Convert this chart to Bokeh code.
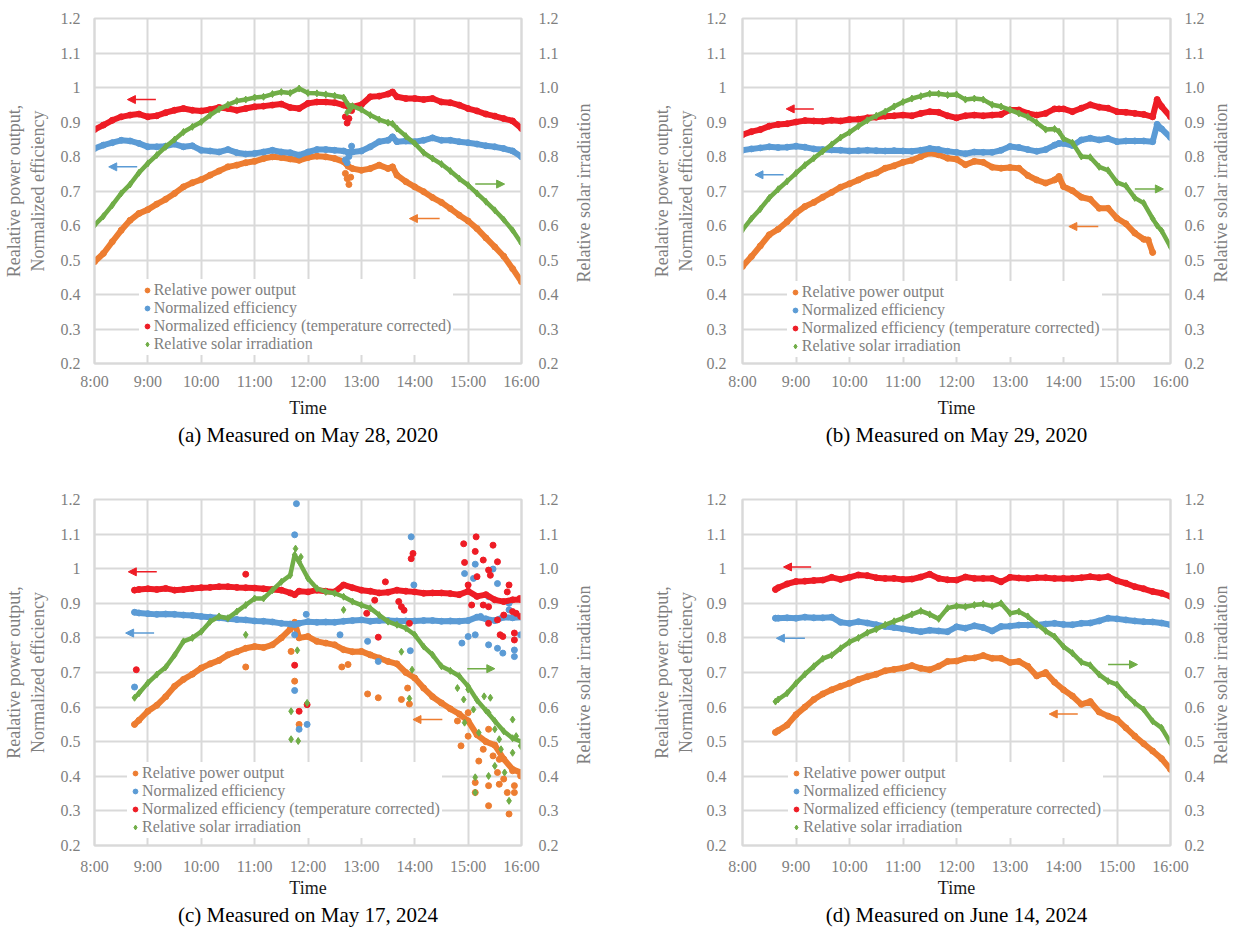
import math
from bokeh.plotting import figure
from bokeh.models import (Range1d, LinearAxis, FixedTicker, Legend, LegendItem,
                          Arrow, NormalHead, Title)
from bokeh.layouts import row, column
from bokeh.embed import file_html
from bokeh.resources import INLINE

FONT = "Liberation Serif"
C_ORANGE, C_BLUE, C_RED, C_GREEN = "#ED7D31", "#5B9BD5", "#EE1C25", "#70AD47"
GRID = "#D9D9D9"
GRAY_TXT = "#7F7F7F"

# ---------------- axis ticks / labels ----------------
X_TICKS = [480, 540, 600, 660, 720, 780, 840, 900, 960]          # minutes after midnight
X_LABELS = ["8:00", "9:00", "10:00", "11:00", "12:00", "13:00", "14:00", "15:00", "16:00"]
Y_TICKS = [0.2, 0.3, 0.4, 0.5, 0.6, 0.7, 0.8, 0.9, 1.0, 1.1, 1.2]
Y_LEFT_LABELS = ["0.2", "0.3", "0.4", "0.5", "0.6", "0.7", "0.8", "0.9", "1", "1.1", "1.2"]
Y_RIGHT_LABELS = ["0.2", "0.3", "0.4", "0.5", "0.6", "0.7", "0.8", "0.9", "1.0", "1.1", "1.2"]
SERIES_NAMES = ["Relative power output", "Normalized efficiency",
                "Normalized efficiency (temperature corrected)", "Relative solar irradiation"]
LEFT_TITLE = "Realative power output,\nNormalized efficiency"
RIGHT_TITLE = "Relative solar irradiation"
X_TITLE = "Time"
CAPTIONS = ["(a) Measured on May 28, 2020", "(b) Measured on May 29, 2020",
            "(c) Measured on May 17, 2024", "(d) Measured on June 14, 2024"]

# ---------------- panel (a) ----------------
T_A = [480, 490, 500, 510, 520, 530, 540, 550, 560, 570, 580, 590, 600, 610, 620, 630, 640, 650,
       660, 670, 680, 690, 700, 710, 720, 730, 740, 750, 760, 765, 770, 780, 790, 800, 810, 815,
       820, 830, 840, 850, 860, 870, 880, 890, 900, 910, 920, 930, 940, 950, 960]
POWER_A = [.495, .519, .553, .586, .615, .635, .646, .662, .676, .693,
           .712, .724, .733, .746, .758, .770, .775, .782, .786, .794,
           .799, .797, .793, .789, .797, .801, .799, .794, .785,
           .772,
           .765, .760, .765, .775, .765,
           .770,
           .746, .727, .712, .698, .681, .667, .649, .630, .613, .591, .564, .538, .511, .475, .437]
EFF_A = [.823, .833, .840, .847, .845, .838, .828, .828, .830, .836,
         .828, .831, .818, .816, .813, .820, .811, .807, .809, .813,
         .818, .813, .811, .804, .813, .820, .820, .818, .816,
         .812,
         .813, .816, .828, .843, .847,
         .857,
         .843, .845, .843, .847, .854, .847, .847, .843, .840, .836, .831, .828, .823, .816, .799]
EFFT_A = [.878, .891, .905, .915, .920, .923, .915, .918, .927, .934,
          .939, .934, .932, .936, .942, .939, .934, .939, .944, .946,
          .949, .952, .942, .939, .954, .958, .958, .956, .949,
          .945,
          .944, .950, .973, .975, .981,
          .987,
          .973, .968, .968, .965, .968, .958, .956, .949, .939, .932, .923, .917, .910, .903, .881]
IRR_A = [.601, .627, .659, .693, .719, .753, .780, .804, .828, .849,
         .871, .886, .900, .920, .937, .950, .961, .965, .971, .973,
         .981, .987, .984, .997, .984, .983, .980, .976, .971,
         .950,
         .946, .936, .920, .907, .898,
         .895,
         .881, .859, .838, .811, .794, .778, .758, .736, .717, .693, .669, .644, .617, .586, .548]
OUT_A = {
    "power": ([762, 764, 766, 768], [.751, .736, .719, .740]),
    "eff": ([762, 764, 766, 769], [.790, .782, .800, .830]),
    "efft": ([762, 764, 766, 769], [.915, .897, .910, .933]),
    "irr": ([764, 767], [.928, .935]),
}
ARROWS_A = [(549, 517, .965, C_RED), (528, 496, .770, C_BLUE),
            (908, 941, .720, C_GREEN), (868, 834, .620, C_ORANGE)]

# ---------------- panel (b) ----------------
T_B = [480, 490, 500, 510, 520, 530, 540, 550, 560, 570, 580, 590, 600, 610, 620, 630, 640, 650,
       660, 670, 680, 690, 700, 710, 720, 730, 740, 750, 760, 770, 780, 790, 800, 810, 820, 830,
       835, 840, 850, 860, 870, 880, 890, 900, 910, 920, 930, 940, 945, 950, 960]
T_B_POWER = [480, 490, 500, 510, 520, 530, 540, 550, 560, 570, 580, 590, 600, 610, 620, 630, 640,
             650, 660, 670, 680, 690, 700, 710, 720, 730, 740, 750, 760, 770, 780, 790, 800, 810,
             820, 830, 835, 840, 850, 860, 870, 880, 890, 900, 910, 920, 930, 935, 940]
POWER_B = [.481, .510, .541, .573, .589, .611, .636, .655, .667, .682,
           .696, .711, .721, .732, .744, .752, .766, .773, .783, .789,
           .800, .810, .805, .795, .792, .776, .786, .783, .769, .766,
           .768, .766, .745, .732, .723, .732,
           .742,
           .713, .701, .682, .676, .650, .650, .621, .605, .578, .560,
           .558, .522]
EFF_B = [.818, .822, .825, .828, .826, .827, .830, .827, .822, .820,
         .819, .818, .816, .817, .818, .817, .816, .817, .816, .815,
         .818, .823, .820, .815, .812, .808, .813, .812, .812, .818,
         .829, .826, .820, .815, .820, .833,
         .838,
         .838, .832, .848, .853, .848, .852, .843, .845, .845, .845, .843,
         .893, .880, .855]
EFFT_B = [.863, .872, .878, .888, .893, .895, .900, .904, .903, .902,
          .905, .903, .907, .908, .912, .914, .917, .918, .920, .918,
          .925, .930, .928, .918, .912, .918, .920, .918, .920, .922,
          .935, .935, .925, .920, .925, .938,
          .938,
          .938, .930, .940, .950, .943, .940, .930, .928, .925, .922, .915,
          .965, .945, .915]
IRR_B = [.587, .620, .648, .680, .705, .728, .752, .775, .795, .815,
         .835, .855, .870, .888, .905, .918, .930, .945, .958, .968,
         .975, .982, .982, .978, .980, .965, .968, .965, .950, .945,
         .935, .925, .915, .898, .878, .880,
         .872,
         .852, .840, .800, .798, .770, .760, .725, .715, .680, .665, .620,
         .600, .585, .538]
OUT_B = {"power": ([], []), "eff": ([], []), "efft": ([], []), "irr": ([], [])}
ARROWS_B = [(560, 529, .938, C_RED), (526, 494, .747, C_BLUE),
            (920, 952, .706, C_GREEN), (879, 846, .597, C_ORANGE)]

# ---------------- panel (c) ----------------
T_C = [525, 530, 540, 550, 560, 570, 580, 590, 600, 610, 620, 630, 640, 650, 660, 670, 680, 690,
       700, 705, 710, 720, 730, 740, 750, 760, 770, 780, 790, 800, 810, 820, 830, 840, 850, 860,
       870, 880, 890, 900, 910, 920, 930, 940, 950, 960]
POWER_C = [.550,
           .562, .588, .605, .630, .660, .680, .695, .713, .725, .735, .751, .760, .770, .775,
           .772, .780, .800, .825,
           .845,
           .800, .804, .790, .785, .780, .766, .760, .761, .751, .742, .732, .725, .700, .684,
           .655, .630, .612, .595, .580, .560, .520, .500, .490, .450, .420, .410]
EFF_C = [.874,
         .872, .870, .868, .869, .868, .866, .865, .862, .860, .858, .855, .853, .852, .849,
         .848, .846, .842, .840,
         .838,
         .842, .847, .845, .846, .845, .848, .850, .852, .848, .850, .850, .849, .849, .849,
         .850, .850, .848, .849, .848, .850, .860, .855, .850, .860, .858, .860]
EFFT_C = [.938,
          .940, .942, .940, .943, .938, .940, .943, .945, .946, .948, .948, .946, .945, .944,
          .942, .940, .938, .930,
          .925,
          .935, .933, .938, .935, .933, .953, .945, .938, .935, .930, .932, .938, .935, .933,
          .929, .930, .930, .928, .925, .935, .920, .925, .910, .905, .910, .910]
IRR_C = [.627,
         .640, .670, .694, .715, .750, .790, .800, .818, .847, .862, .857, .876, .895, .914,
         .914, .938, .962, .981,
         1.040,
         1.020, .972, .943, .933, .929, .919, .905, .895, .886, .866, .847, .838, .828, .809,
         .775, .751, .718, .705, .690, .660, .620, .590, .560, .530, .510, .500]
OUT_C = {
    "power": ([650, 701, 705, 710, 758, 765, 787, 799, 825, 834, 832,
               908, 908, 923, 923, 946, 944, 952, 952, 935, 940, 892, 900, 912, 917, 928,
               933, 950, 959, 923, 935, 900, 888],
              [.716, .761, .675, .550, .716, .723, .638, .627, .622, .609, .655,
               .382, .353, .373, .315, .291, .353, .353, .373, .377, .392, .488, .516, .444,
               .478, .459, .411, .416, .401, .536, .449, .584, .560]),
    "eff": ([525, 707, 705, 705, 710, 719, 718, 705, 836, 835, 787, 799, 756, 839,
             893, 896, 900, 908, 908, 928, 933, 923, 933, 939, 952, 952, 946, 959, 906, 914,
             923, 946],
            [.658, 1.188, 1.098, .648, .536, .550, .868, .809, 1.092, .763, .790, .732, .809,
             .953, .785, .986, .804, 1.013, .809, .999, .957, .780, .770, .756, .765, .746,
             .900, .809, .972, .862, .919, .881]),
    "efft": ([527, 650, 705, 710, 719, 836, 838, 834, 799, 786, 807, 795, 822, 825, 828,
              895, 896, 909, 908, 928, 933, 917, 923, 910, 925, 900, 904, 917, 923, 923, 933,
              940, 936, 939, 952, 952, 946, 944, 958, 950, 954, 959],
             [.708, .984, .721, .588, .607, 1.029, 1.044, .842, .802, .871, .962, .909, .905,
              .890, .880, 1.072, 1.018, 1.092, 1.050, 1.068, 1.020, 1.025, .996, .977, .981,
              .953, .895, .895, .890, .842, .852, .866, .809, .804, .814, .794, .953, .933,
              .914, .876, .871, .862]),
    "irr": ([650, 701, 701, 709, 708, 719, 760, 825, 834, 837, 706, 712,
             888, 895, 900, 896, 906, 912, 918, 925, 923, 930, 935, 937, 908, 908, 923, 930,
             946, 950, 954, 959, 950, 941],
            [.809, .588, .507, .502, .764, .612, .881, .760, .625, .708, 1.058, 1.034,
             .655, .622, .651, .555, .593, .526, .631, .627, .584, .536, .507, .478, .397,
             .353, .401, .430, .329, .564, .516, .488, .468, .411]),
}
ARROWS_C = [(550, 518, .991, C_RED), (547, 515, .814, C_BLUE),
            (899, 930, .711, C_GREEN), (871, 838, .564, C_ORANGE)]

# ---------------- panel (d) ----------------
T_D = [517, 520, 530, 540, 550, 560, 570, 580, 590, 600, 610, 620, 630, 640, 650, 660, 670, 680,
       690, 700, 710, 720, 730, 740, 750, 760, 770, 780, 790, 800, 810, 820, 830, 840, 850, 860,
       870, 880, 890, 900, 910, 920, 930, 940, 950, 960]
POWER_D = [.527,
           .532, .548, .578, .600, .622, .638, .650, .660,
           .669, .680, .688, .695, .705, .709, .713, .720, .712, .708,
           .718, .732, .733, .741, .742, .749, .741, .741, .729, .732,
           .718, .690, .700, .672, .650, .632, .608, .616, .586, .574,
           .564, .540, .516, .494, .473, .451, .420]
EFF_D = [.857,
         .857, .858, .857, .860, .858, .858, .860, .845,
         .842, .847, .843, .838, .833, .830, .826, .822, .818, .822,
         .820, .818, .832, .828, .835, .830, .820, .833, .834, .837,
         .837, .837, .840, .842, .839, .838, .842, .843, .849, .857,
         .855, .852, .849, .847, .846, .843, .838]
EFFT_D = [.940,
          .945, .956, .963, .964, .966, .967, .975, .969,
          .975, .982, .980, .974, .972, .972, .969, .970, .976, .984,
          .972, .968, .967, .976, .972, .972, .972, .962, .975, .973,
          .972, .974, .974, .972, .972, .972, .974, .977, .974, .977,
          .965, .958, .948, .942, .934, .929, .920]
IRR_D = [.616,
         .622, .640, .669, .695, .718, .740, .750, .770,
         .788, .800, .815, .825, .838, .848, .857, .868, .878, .868,
         .855, .886, .892, .890, .895, .898, .892, .900, .871, .876,
         .862, .840, .820, .804, .775, .756, .730, .721, .694, .675,
         .665, .636, .612, .593, .559, .540, .497]
OUT_D = {"power": ([], []), "eff": ([], []), "efft": ([], []), "irr": ([], [])}
ARROWS_D = [(557, 526, 1.005, C_RED), (550, 518, .799, C_BLUE),
            (890, 923, .723, C_GREEN), (856, 824, .580, C_ORANGE)]

NBSP_PAD = "\u00a0" * 18   # lifts the bottom-anchored right title to the frame centre


def make_panel(t_power, power, t, eff, efft, irr, out, arrows, caption, col, bottom, legend_xy):
    if col == 0:
        bl, fw, br = 94, 427, 99
        y_std, ylab_std, r_std, rlab_std = 14, 10, 17, 22
    else:
        bl, fw, br = 122, 429, 72
        y_std, ylab_std, r_std, rlab_std = 16, 8, 14, 13
    if bottom:
        bt, fh, bb = 29, 348, 80
        x_std, xl_std, cap_std = 12, 0, 1
    else:
        bt, fh, bb = 18, 345, 107
        x_std, xl_std, cap_std = 9, 5, 1

    p = figure(width=bl + fw + br, height=bt + fh + bb,
               x_range=Range1d(480, 960), y_range=Range1d(0.2, 1.2),
               output_backend="svg", toolbar_location=None,
               min_border_left=bl, min_border_right=br,
               min_border_top=bt, min_border_bottom=bb,
               background_fill_color="white", border_fill_color="white")
    p.outline_line_color = GRID
    p.outline_line_width = 2

    p.xgrid.ticker = FixedTicker(ticks=X_TICKS)
    p.ygrid.ticker = FixedTicker(ticks=Y_TICKS)
    for g in (p.xgrid, p.ygrid):
        g.grid_line_color = GRID
        g.grid_line_width = 2

    xa = p.xaxis[0]
    xa.ticker = FixedTicker(ticks=X_TICKS)
    xa.major_label_overrides = {k: v for k, v in zip(X_TICKS, X_LABELS)}
    xa.axis_label = X_TITLE
    xa.axis_label_standoff = xl_std
    xa.major_label_standoff = x_std

    ya = p.yaxis[0]
    ya.ticker = FixedTicker(ticks=Y_TICKS)
    ya.major_label_overrides = {k: v for k, v in zip(Y_TICKS, Y_LEFT_LABELS)}
    ya.axis_label = LEFT_TITLE
    ya.axis_label_standoff = ylab_std
    ya.major_label_standoff = y_std

    p.extra_y_ranges = {"r": Range1d(0.2, 1.2)}
    ra = LinearAxis(y_range_name="r", ticker=FixedTicker(ticks=Y_TICKS))
    ra.major_label_overrides = {k: v for k, v in zip(Y_TICKS, Y_RIGHT_LABELS)}
    ra.major_label_standoff = r_std
    ra.axis_label_standoff = rlab_std
    props = ra.properties()
    if "axis_label_orientation" in props and "axis_label_align" in props:
        ra.axis_label = NBSP_PAD + RIGHT_TITLE
        ra.axis_label_orientation = math.pi / 2
        ra.axis_label_align = "start"
    else:
        ra.axis_label = RIGHT_TITLE
    p.add_layout(ra, "right")

    for ax in (xa, ya, ra):
        ax.axis_line_color = GRID
        ax.axis_line_width = 2
        ax.major_tick_line_color = None
        ax.minor_tick_line_color = None
        ax.major_tick_out = 0
        ax.major_tick_in = 0
        ax.major_label_text_font = FONT
        ax.major_label_text_font_size = "16px"
        ax.major_label_text_color = GRAY_TXT
        ax.axis_label_text_font = FONT
        ax.axis_label_text_font_style = "normal"
        ax.axis_label_text_font_size = "18px"
        ax.axis_label_text_color = GRAY_TXT
    xa.axis_label_text_color = "#1A1A1A"

    specs = [(t_power, power, C_ORANGE, 6, "circle", 6, "power"),
             (t, eff, C_BLUE, 6, "circle", 6, "eff"),
             (t, efft, C_RED, 6, "circle", 6, "efft"),
             (t, irr, C_GREEN, 4.5, "diamond", 7, "irr")]
    legend_rs = []
    for tx, ys, c, lw, mk, ms, key in specs:
        p.line(tx, ys, line_color=c, line_width=lw, line_join="round", line_cap="round")
        r = p.scatter(tx, ys, marker=mk, size=ms, fill_color=c, line_color=c)
        legend_rs.append(r)
        ox, oy = out[key]
        if ox:
            p.scatter(ox, oy, marker=mk, size=ms, fill_color=c, line_color=c)

    for x0, x1, yv, c in arrows:
        p.add_layout(Arrow(x_start=x0, y_start=yv, x_end=x1, y_end=yv, line_color=c,
                           line_width=1.5,
                           end=NormalHead(size=8, fill_color=c, line_color=c, line_width=1)))

    leg = Legend(items=[LegendItem(label=n, renderers=[r]) for n, r in zip(SERIES_NAMES, legend_rs)],
                 location=legend_xy, orientation="vertical",
                 background_fill_color="white", background_fill_alpha=1.0,
                 border_line_alpha=0, label_text_font=FONT, label_text_font_size="16px",
                 label_text_color=GRAY_TXT, glyph_width=12, glyph_height=18,
                 label_height=18, spacing=0, padding=2, margin=0, label_standoff=1)
    p.add_layout(leg)

    p.add_layout(Title(text=caption, align="center", text_font=FONT, text_font_size="21px",
                       text_font_style="normal", text_color="#000000", standoff=cap_std), "below")
    return p


pa = make_panel(T_A, POWER_A, T_A, EFF_A, EFFT_A, IRR_A, OUT_A, ARROWS_A, CAPTIONS[0], 0, False, (44.7, 8.5))
pb = make_panel(T_B_POWER, POWER_B, T_B, EFF_B, EFFT_B, IRR_B, OUT_B, ARROWS_B, CAPTIONS[1], 1, False, (44.8, 6))
pc = make_panel(T_C, POWER_C, T_C, EFF_C, EFFT_C, IRR_C, OUT_C, ARROWS_C, CAPTIONS[2], 0, True, (33, 7))
pd = make_panel(T_D, POWER_D, T_D, EFF_D, EFFT_D, IRR_D, OUT_D, ARROWS_D, CAPTIONS[3], 1, True, (46.3, 7))

layout = column(row(pa, pb), row(pc, pd))
open("out.html", "w").write(file_html(layout, INLINE))
